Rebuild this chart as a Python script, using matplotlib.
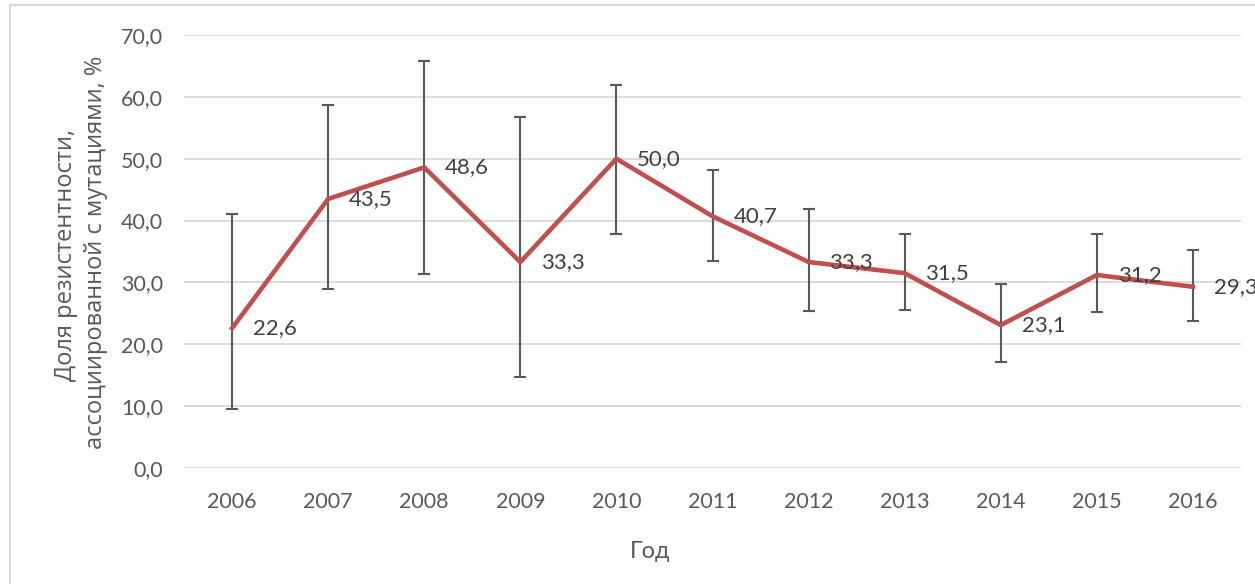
import matplotlib
matplotlib.use("Agg")
import matplotlib.pyplot as plt
from matplotlib.patches import Rectangle
from matplotlib.ticker import FuncFormatter

years = ["2006", "2007", "2008", "2009", "2010", "2011",
         "2012", "2013", "2014", "2015", "2016"]
share = [22.6, 43.5, 48.6, 33.3, 50.0, 40.7, 33.3, 31.5, 23.1, 31.2, 29.3]
ci_upper = [41.0, 58.7, 65.8, 56.8, 61.9, 48.2, 41.8, 37.8, 29.8, 37.8, 35.2]
ci_lower = [9.6, 29.0, 31.3, 14.7, 37.9, 33.5, 25.4, 25.5, 17.2, 25.2, 23.8]

LATIN = ["Lato", "Open Sans", "DejaVu Sans"]
CYR = ["Open Sans", "DejaVu Sans"]

W, H = 1255, 584
fig = plt.figure(figsize=(W / 100, H / 100), dpi=100)
fig.patch.set_facecolor("white")

# outer chart frame
fig.patches.append(Rectangle((9.5 / W, -0.05), 1.2, 1 - 5 / H + 0.05,
                             transform=fig.transFigure, fill=False,
                             edgecolor="#D9D9D9", linewidth=1.6))

ax = fig.add_axes([184 / W, 1 - 468 / H, (1241 - 184) / W, (468 - 35) / H])
x = list(range(len(years)))

err_low = [v - lo for v, lo in zip(share, ci_lower)]
err_high = [hi - v for v, hi in zip(share, ci_upper)]
ax.errorbar(x, share, yerr=[err_low, err_high], fmt="none",
            ecolor="#595959", elinewidth=1.5, capsize=4.0, capthick=1.5,
            zorder=3)
ax.plot(x, share, color="#C0504D", linewidth=3.3, solid_joinstyle="miter",
        zorder=4)

for xi, v in zip(x, share):
    ax.annotate(f"{v:.1f}".replace(".", ","), (xi, v),
                xytext=(15, 0), textcoords="offset points",
                ha="left", va="center", fontsize=16, color="#404040",
                family=LATIN, zorder=5, annotation_clip=False)

ax.set_xlim(-0.5, len(years) - 0.5)
ax.set_ylim(0, 70)
ax.set_yticks(range(0, 71, 10))
ax.yaxis.set_major_formatter(FuncFormatter(lambda v, p: f"{v:.1f}".replace(".", ",")))
ax.set_xticks(x)
ax.set_xticklabels(years)

ax.grid(axis="y", color="#D9D9D9", linewidth=1.3)
ax.set_axisbelow(True)
for s in ax.spines.values():
    s.set_visible(False)
ax.tick_params(axis="both", length=0, colors="#595959", labelsize=15.5)
ax.tick_params(axis="y", pad=15)
ax.tick_params(axis="x", pad=17)
for lab in ax.get_xticklabels() + ax.get_yticklabels():
    lab.set_family(LATIN)

fig.text(650 / W, 1 - 551 / H, "Год", ha="center", va="center",
         fontsize=17, color="#595959", family=LATIN)
fig.text(66 / W, 1 - 255 / H, "Доля резистентности,", rotation=90,
         ha="center", va="center", fontsize=17, color="#595959", family=CYR)
fig.text(96 / W, 1 - 252 / H, "ассоциированной с мутациями, %", rotation=90,
         ha="center", va="center", fontsize=17, color="#595959", family=CYR)

fig.savefig("out.png", dpi=100)
